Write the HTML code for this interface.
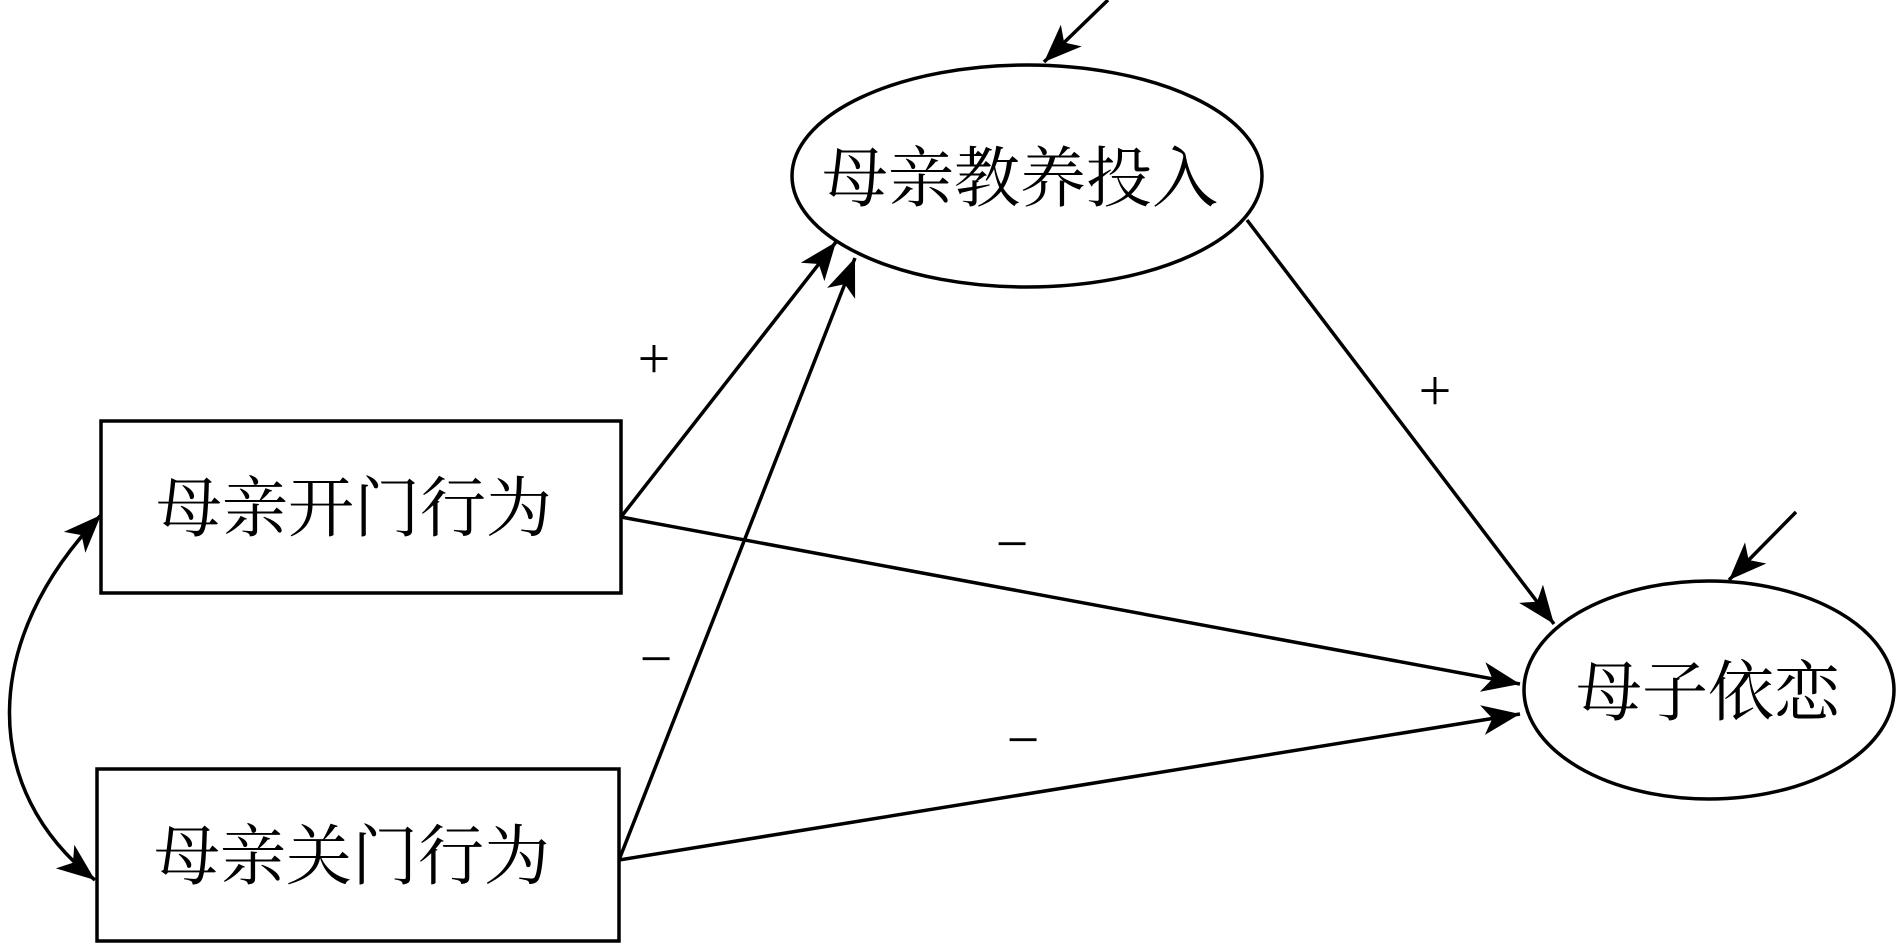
<!DOCTYPE html>
<html><head><meta charset="utf-8"><style>
html,body{margin:0;padding:0;background:#fff;}
svg{display:block;}
text{font-family:"Liberation Serif","Noto Serif CJK SC",serif;fill:#000;}
</style></head><body>
<svg width="1899" height="945" viewBox="0 0 1899 945" xmlns="http://www.w3.org/2000/svg">
<defs>
<marker id="a" markerUnits="userSpaceOnUse" markerWidth="42" markerHeight="36" refX="38" refY="18" orient="auto">
<path d="M0,3 L38,18 L0,33 L10,18 Z" fill="#000"/>
</marker>
<marker id="as" markerUnits="userSpaceOnUse" markerWidth="42" markerHeight="36" refX="38" refY="18" orient="auto-start-reverse">
<path d="M0,3 L38,18 L0,33 L10,18 Z" fill="#000"/>
</marker>
</defs>
<g fill="none" stroke="#000" stroke-width="3.5">
<rect x="101" y="421" width="520" height="172"/>
<rect x="97" y="769" width="522" height="172"/>
<ellipse cx="1027" cy="176" rx="235" ry="111"/>
<ellipse cx="1709" cy="690" rx="185" ry="109"/>
<line x1="621" y1="517" x2="836" y2="242" marker-end="url(#a)"/>
<line x1="619" y1="860" x2="855" y2="258" marker-end="url(#a)"/>
<line x1="621" y1="517" x2="1520" y2="684" marker-end="url(#a)"/>
<line x1="619" y1="860" x2="1520" y2="714" marker-end="url(#a)"/>
<line x1="1247" y1="220" x2="1554" y2="624" marker-end="url(#a)"/>
<line x1="1108" y1="0" x2="1044" y2="62" marker-end="url(#a)"/>
<line x1="1796" y1="512" x2="1729" y2="580" marker-end="url(#a)"/>
<path d="M101,515 C-20,640 -20,790 95,880" marker-start="url(#as)" marker-end="url(#as)"/>
</g>
<g font-size="66" text-anchor="middle">
<text x="354" y="531">母亲开门行为</text>
<text x="352" y="879">母亲关门行为</text>
<text x="1020" y="201">母亲教养投入</text>
<text x="1708" y="715">母子依恋</text>
</g>
<g font-size="58" text-anchor="middle" font-family="Liberation Sans, sans-serif">
<text x="654" y="378">+</text>
<text x="1435" y="410">+</text>
<text x="1012" y="563">−</text>
<text x="656" y="678">−</text>
<text x="1023" y="759">−</text>
</g>
</svg>
</body></html>
